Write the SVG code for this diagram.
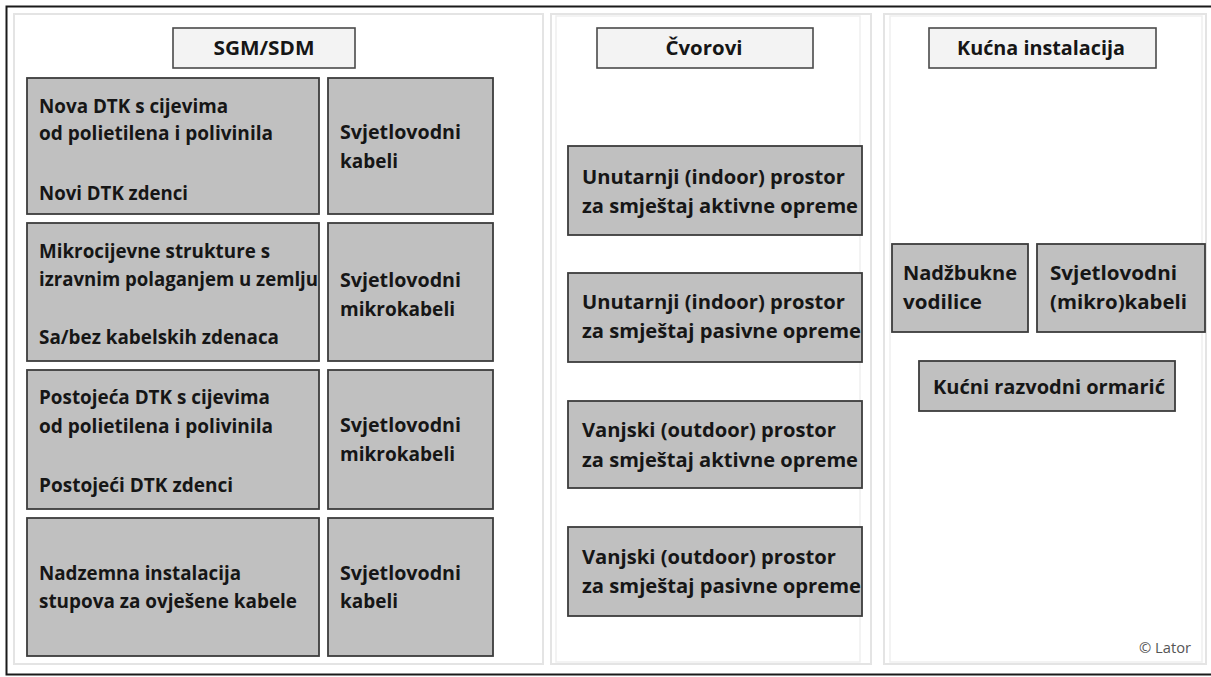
<svg xmlns="http://www.w3.org/2000/svg" width="1211" height="677" viewBox="0 0 1211 677">
<style>
.panel{fill:#ffffff;stroke:#e4e4e4;stroke-width:2}
.panel2{fill:none;stroke:#efefef;stroke-width:1.5}
.hdr{fill:#f3f3f3;stroke:#4a4a4a;stroke-width:1.6}
.box{fill:#c0c0c0;stroke:#3c3c3c;stroke-width:1.8}
text{font-family:"Open Sans","Liberation Sans",Arial,sans-serif;font-weight:700;font-size:19px;fill:#161616}
.cp{font-weight:normal;font-size:14px;fill:#555555}
</style>
<rect x="0" y="0" width="1211" height="677" fill="#ffffff"/>
<g id="frame">
<rect x="6.5" y="6.5" width="1215" height="668" fill="none" stroke="#1a1a1a" stroke-width="2"/>
<rect x="14" y="14" width="529" height="650" class="panel"/>
<rect x="551" y="14" width="320" height="650" class="panel"/>
<rect x="556" y="16" width="304" height="646" class="panel2"/>
<rect x="884" y="14" width="322" height="650" class="panel"/>
<rect x="890" y="16" width="312" height="646" class="panel2"/>
</g>
<g id="connectors"></g>
<g id="hdr-sgm"><rect x="173" y="28" width="182" height="40" class="hdr"/><text x="264" y="55" text-anchor="middle" textLength="101" lengthAdjust="spacingAndGlyphs">SGM/SDM</text></g>
<g id="hdr-cvorovi"><rect x="597" y="28" width="216" height="40" class="hdr"/><text x="704" y="55" text-anchor="middle" textLength="77" lengthAdjust="spacingAndGlyphs">Čvorovi</text></g>
<g id="hdr-kucna"><rect x="929" y="28" width="227" height="40" class="hdr"/><text x="1041" y="55" text-anchor="middle" textLength="168" lengthAdjust="spacingAndGlyphs">Kućna instalacija</text></g>

<g id="r1a"><rect x="27" y="78" width="292" height="136" class="box"/>
<text x="39" y="113" textLength="189" lengthAdjust="spacingAndGlyphs">Nova DTK s cijevima</text>
<text x="39" y="140" textLength="234" lengthAdjust="spacingAndGlyphs">od polietilena i polivinila</text>
<text x="39" y="200" textLength="149" lengthAdjust="spacingAndGlyphs">Novi DTK zdenci</text></g>
<g id="r1b"><rect x="328" y="78" width="165" height="136" class="box"/>
<text x="340" y="139" textLength="121" lengthAdjust="spacingAndGlyphs">Svjetlovodni</text>
<text x="340" y="168" textLength="58" lengthAdjust="spacingAndGlyphs">kabeli</text></g>

<g id="r2a"><rect x="27" y="223" width="292" height="138" class="box"/>
<text x="39" y="258" textLength="231" lengthAdjust="spacingAndGlyphs">Mikrocijevne strukture s</text>
<text x="39" y="286" textLength="279" lengthAdjust="spacingAndGlyphs">izravnim polaganjem u zemlju</text>
<text x="39" y="344" textLength="240" lengthAdjust="spacingAndGlyphs">Sa/bez kabelskih zdenaca</text></g>
<g id="r2b"><rect x="328" y="223" width="165" height="138" class="box"/>
<text x="340" y="287" textLength="121" lengthAdjust="spacingAndGlyphs">Svjetlovodni</text>
<text x="340" y="316" textLength="115" lengthAdjust="spacingAndGlyphs">mikrokabeli</text></g>

<g id="r3a"><rect x="27" y="370" width="292" height="139" class="box"/>
<text x="39" y="404" textLength="231" lengthAdjust="spacingAndGlyphs">Postojeća DTK s cijevima</text>
<text x="39" y="433" textLength="234" lengthAdjust="spacingAndGlyphs">od polietilena i polivinila</text>
<text x="39" y="492" textLength="194" lengthAdjust="spacingAndGlyphs">Postojeći DTK zdenci</text></g>
<g id="r3b"><rect x="328" y="370" width="165" height="139" class="box"/>
<text x="340" y="432" textLength="121" lengthAdjust="spacingAndGlyphs">Svjetlovodni</text>
<text x="340" y="461" textLength="115" lengthAdjust="spacingAndGlyphs">mikrokabeli</text></g>

<g id="r4a"><rect x="27" y="518" width="292" height="138" class="box"/>
<text x="39" y="580" textLength="202" lengthAdjust="spacingAndGlyphs">Nadzemna instalacija</text>
<text x="39" y="608" textLength="258" lengthAdjust="spacingAndGlyphs">stupova za ovješene kabele</text></g>
<g id="r4b"><rect x="328" y="518" width="165" height="138" class="box"/>
<text x="340" y="580" textLength="121" lengthAdjust="spacingAndGlyphs">Svjetlovodni</text>
<text x="340" y="608" textLength="58" lengthAdjust="spacingAndGlyphs">kabeli</text></g>

<g id="n1"><rect x="568" y="146" width="294" height="89" class="box"/>
<text x="582" y="184" textLength="263" lengthAdjust="spacingAndGlyphs">Unutarnji (indoor) prostor</text>
<text x="582" y="213" textLength="276" lengthAdjust="spacingAndGlyphs">za smještaj aktivne opreme</text></g>
<g id="n2"><rect x="568" y="273" width="294" height="89" class="box"/>
<text x="582" y="309" textLength="263" lengthAdjust="spacingAndGlyphs">Unutarnji (indoor) prostor</text>
<text x="582" y="338" textLength="279" lengthAdjust="spacingAndGlyphs">za smještaj pasivne opreme</text></g>
<g id="n3"><rect x="568" y="401" width="294" height="87" class="box"/>
<text x="582" y="437" textLength="254" lengthAdjust="spacingAndGlyphs">Vanjski (outdoor) prostor</text>
<text x="582" y="467" textLength="276" lengthAdjust="spacingAndGlyphs">za smještaj aktivne opreme</text></g>
<g id="n4"><rect x="568" y="527" width="294" height="89" class="box"/>
<text x="582" y="564" textLength="254" lengthAdjust="spacingAndGlyphs">Vanjski (outdoor) prostor</text>
<text x="582" y="593" textLength="279" lengthAdjust="spacingAndGlyphs">za smještaj pasivne opreme</text></g>

<g id="k1"><rect x="892" y="244" width="136" height="88" class="box"/>
<text x="903" y="280" textLength="114" lengthAdjust="spacingAndGlyphs">Nadžbukne</text>
<text x="903" y="309" textLength="79" lengthAdjust="spacingAndGlyphs">vodilice</text></g>
<g id="k2"><rect x="1037" y="244" width="168" height="88" class="box"/>
<text x="1050" y="280" textLength="127" lengthAdjust="spacingAndGlyphs">Svjetlovodni</text>
<text x="1050" y="309" textLength="137" lengthAdjust="spacingAndGlyphs">(mikro)kabeli</text></g>
<g id="k3"><rect x="919" y="361" width="256" height="50" class="box"/>
<text x="933" y="394" textLength="232" lengthAdjust="spacingAndGlyphs">Kućni razvodni ormarić</text></g>
<text class="cp" x="1139" y="653" textLength="52" lengthAdjust="spacingAndGlyphs">© Lator</text>
</svg>
